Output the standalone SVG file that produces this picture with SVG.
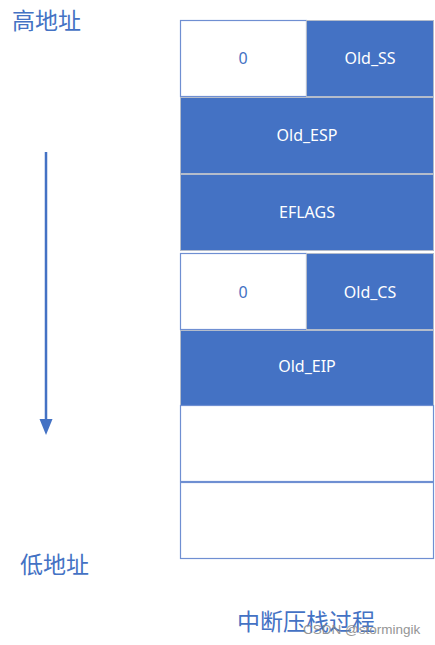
<svg xmlns="http://www.w3.org/2000/svg" width="435" height="645" viewBox="0 0 435 645">
<style>
.blue{fill:#4472C4;stroke:#B4BCCB;stroke-width:1}
.white{fill:#FFFFFF;stroke:#6F8FD2;stroke-width:1.2}
.lt{font-family:"Noto Sans","Open Sans",sans-serif;font-size:16px;fill:#FFFFFF;text-anchor:middle;dominant-baseline:central}
.dt{font-family:"Noto Sans","Open Sans",sans-serif;font-size:16px;fill:#4472C4;text-anchor:middle;dominant-baseline:central}
.cj{font-family:"Noto Sans CJK SC",sans-serif;font-size:23px;fill:#4472C4}
</style>
<rect width="435" height="645" fill="#FFFFFF"/>
<g id="n-ss0"><rect class="white" x="180.5" y="20.5" width="126" height="76"/><text class="dt" x="243" y="58">0</text></g>
<g id="n-oldss"><rect class="blue" x="306.5" y="20.5" width="127" height="76"/><text class="lt" x="370" y="58">Old_SS</text></g>
<g id="n-oldesp"><rect class="blue" x="180.5" y="97.5" width="253" height="76"/><text class="lt" x="307" y="135">Old_ESP</text></g>
<g id="n-eflags"><rect class="blue" x="180.5" y="174.5" width="253" height="76"/><text class="lt" x="307" y="212">EFLAGS</text></g>
<g id="n-cs0"><rect class="white" x="180.5" y="253.5" width="126" height="76"/><text class="dt" x="243" y="292">0</text></g>
<g id="n-oldcs"><rect class="blue" x="306.5" y="253.5" width="127" height="76"/><text class="lt" x="370" y="292">Old_CS</text></g>
<g id="n-oldeip"><rect class="blue" x="180.5" y="330.5" width="253" height="75"/><text class="lt" x="307" y="366">Old_EIP</text></g>
<g id="n-empty1"><rect class="white" x="180.5" y="405.5" width="253" height="76"/></g>
<g id="n-empty2"><rect class="white" x="180.5" y="482.5" width="253" height="76"/></g>
<g id="connectors">
<line x1="46" y1="152" x2="46" y2="420" stroke="#4472C4" stroke-width="2.5"/>
<path d="M39.5,419 L52.5,419 L46,435 Z" fill="#4472C4"/>
</g>
<g id="labels">
<text class="cj" x="12" y="29">高地址</text>
<text class="cj" x="20" y="573">低地址</text>
<text class="cj" x="237" y="630">中断压栈过程</text>
<text x="303" y="634" style="font-family:'Liberation Sans',sans-serif;font-size:13.5px;fill:#8A8A8A;opacity:0.9">CSDN @stormingik</text>
</g>
</svg>
